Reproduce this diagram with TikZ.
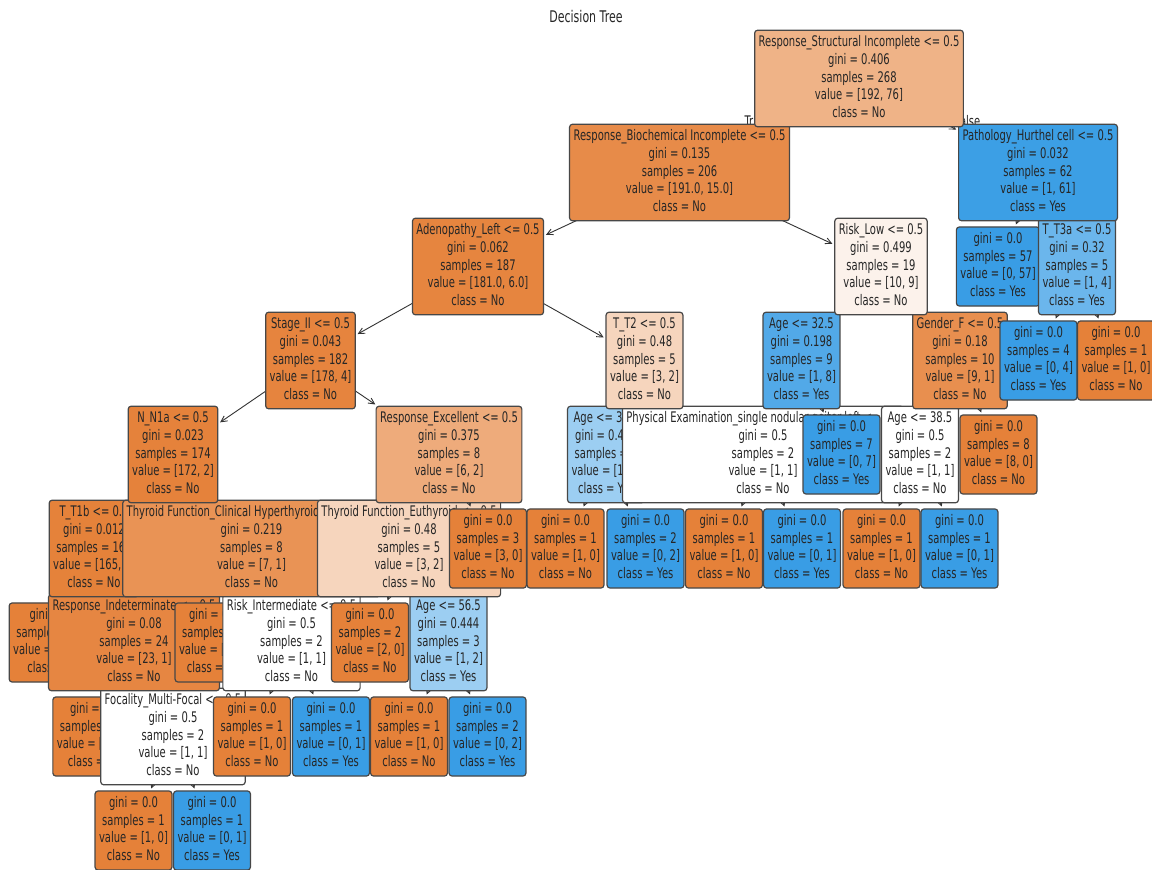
\documentclass[tikz,border=0pt]{standalone}
\usepackage{fontspec}
\setmainfont{DejaVu Sans}
\usepackage{graphicx}
\usetikzlibrary{arrows.meta}

% one layer per depth, deeper nodes lie below shallower ones
\pgfdeclarelayer{bg}
\pgfdeclarelayer{d0}
\pgfdeclarelayer{d1}
\pgfdeclarelayer{d2}
\pgfdeclarelayer{d3}
\pgfdeclarelayer{d4}
\pgfdeclarelayer{d5}
\pgfdeclarelayer{d6}
\pgfdeclarelayer{d7}
\pgfdeclarelayer{d8}
\pgfsetlayers{bg,d8,d7,d6,d5,d4,d3,d2,d1,d0,main}

\begin{document}
\begin{tikzpicture}[x=1pt, y=-1pt,
    tnode/.style={draw=black!72, line width=1.2pt, rounded corners=3pt,
        inner xsep=4pt, inner ysep=4.5pt, text=black!85,
        font=\fontsize{10}{12}\selectfont},
    tedge/.style={-{Straight Barb[length=6pt,width=6pt]}, line width=0.9pt,
        draw=black!80, shorten >=2pt},
    tlabel/.style={inner sep=0pt, text=black!85, font=\fontsize{10}{12}\selectfont}]
    % Class colours (No = orange, Yes = blue) blended with white by purity
    \definecolor{leafno}{RGB}{229,129,57}
    \definecolor{leafyes}{RGB}{57,157,229}
    \definecolor{croot}{RGB}{239,179,135}
    \definecolor{cbio}{RGB}{231,139,73}
    \definecolor{cpatho}{RGB}{60,159,229}
    \definecolor{cadeno}{RGB}{230,133,63}
    \definecolor{crisklow}{RGB}{252,242,235}
    \definecolor{ctthreea}{RGB}{107,182,236}
    \definecolor{cstage}{RGB}{230,132,62}
    \definecolor{cmixed}{RGB}{246,213,189}
    \definecolor{cagelow}{RGB}{82,169,232}
    \definecolor{cgender}{RGB}{232,143,79}
    \definecolor{cnone}{RGB}{229,130,59}
    \definecolor{cexcel}{RGB}{238,171,123}
    \definecolor{chalfblue}{RGB}{156,206,242}
    \definecolor{ctone}{RGB}{229,130,58}
    \definecolor{cclin}{RGB}{233,147,85}
    \definecolor{cindet}{RGB}{230,134,66}

    % Text block, stretched upwards like the plotted figure
    \newcommand{\stretchtext}[1]{\scalebox{1}[1.46]{\begin{tabular}{@{}c@{}}#1\end{tabular}}}
    % Tree node: depth, name, x, y, colour, text
    \newcommand{\treenode}[6]{
        \begin{pgfonlayer}{d#1}
            \node[tnode, fill=#5] (#2) at (#3,#4) {\stretchtext{#6}};
        \end{pgfonlayer}
    }
    % Arrow from parent to child, on the layer of the child
    \newcommand{\treeedge}[3]{
        \begin{pgfonlayer}{d#1}
            \draw[tedge] (#2.center) -- (#3);
        \end{pgfonlayer}
    }

    % Page and background
    \useasboundingbox (0,0) rectangle (1152,870);
    \begin{pgfonlayer}{bg}
        \fill[white] (0,0) rectangle (1152,870);
        \node[tlabel, anchor=east] (truelbl) at (766,121) {\scalebox{1}[1.46]{True}};
        \node[tlabel, anchor=west] (falselbl) at (955,121) {\scalebox{1}[1.46]{False}};
    \end{pgfonlayer}

    % Title
    \node[tlabel, font=\fontsize{11}{13}\selectfont] (title) at (586,17) {\scalebox{1}[1.46]{Decision Tree}};

    % Root
    \treenode{0}{root}{859}{78.5}{croot}{Response\_Structural Incomplete <= 0.5\\gini = 0.406\\samples = 268\\value = [192, 76]\\class = No}

    % Left branch
    \treenode{1}{bio}{679.5}{172.5}{cbio}{Response\_Biochemical Incomplete <= 0.5\\gini = 0.135\\samples = 206\\value = [191.0, 15.0]\\class = No}
    \treeedge{1}{root}{bio}
    \treenode{2}{adeno}{478}{266.5}{cadeno}{Adenopathy\_Left <= 0.5\\gini = 0.062\\samples = 187\\value = [181.0, 6.0]\\class = No}
    \treeedge{2}{bio}{adeno}
    \treenode{3}{stage}{310.5}{360.5}{cstage}{Stage\_II <= 0.5\\gini = 0.043\\samples = 182\\value = [178, 4]\\class = No}
    \treeedge{3}{adeno}{stage}
    \treenode{4}{none}{173}{454.5}{cnone}{N\_N1a <= 0.5\\gini = 0.023\\samples = 174\\value = [172, 2]\\class = No}
    \treeedge{4}{stage}{none}
    \treenode{5}{tone}{94}{548.5}{ctone}{T\_T1b <= 0.5\\gini = 0.012\\samples = 166\\value = [165, 1]\\class = No}
    \treeedge{5}{none}{tone}
    \treenode{6}{leafa}{54}{642.5}{leafno}{gini = 0.0\\samples = 142\\value = [142, 0]\\class = No}
    \treeedge{6}{tone}{leafa}
    \treenode{6}{indet}{134}{642.5}{cindet}{Response\_Indeterminate <= 0.5\\gini = 0.08\\samples = 24\\value = [23, 1]\\class = No}
    \treeedge{6}{tone}{indet}
    \treenode{7}{leafb}{94.5}{736.5}{leafno}{gini = 0.0\\samples = 22\\value = [22, 0]\\class = No}
    \treeedge{7}{indet}{leafb}
    \treenode{7}{focal}{173}{736.5}{white}{Focality\_Multi-Focal <= 0.5\\gini = 0.5\\samples = 2\\value = [1, 1]\\class = No}
    \treeedge{7}{indet}{focal}
    \treenode{8}{leafc}{133.5}{830.5}{leafno}{gini = 0.0\\samples = 1\\value = [1, 0]\\class = No}
    \treeedge{8}{focal}{leafc}
    \treenode{8}{leafd}{212}{830.5}{leafyes}{gini = 0.0\\samples = 1\\value = [0, 1]\\class = Yes}
    \treeedge{8}{focal}{leafd}
    \treenode{5}{clin}{251.5}{548.5}{cclin}{Thyroid Function\_Clinical Hyperthyroidism <= 0.5\\gini = 0.219\\samples = 8\\value = [7, 1]\\class = No}
    \treeedge{5}{none}{clin}
    \treenode{6}{leafe}{213.5}{642.5}{leafno}{gini = 0.0\\samples = 6\\value = [6, 0]\\class = No}
    \treeedge{6}{clin}{leafe}
    \treenode{6}{riskint}{291.5}{642.5}{white}{Risk\_Intermediate <= 0.5\\gini = 0.5\\samples = 2\\value = [1, 1]\\class = No}
    \treeedge{6}{clin}{riskint}
    \treenode{7}{leaff}{252}{736.5}{leafno}{gini = 0.0\\samples = 1\\value = [1, 0]\\class = No}
    \treeedge{7}{riskint}{leaff}
    \treenode{7}{leafg}{331}{736.5}{leafyes}{gini = 0.0\\samples = 1\\value = [0, 1]\\class = Yes}
    \treeedge{7}{riskint}{leafg}
    \treenode{4}{excel}{449}{454.5}{cexcel}{Response\_Excellent <= 0.5\\gini = 0.375\\samples = 8\\value = [6, 2]\\class = No}
    \treeedge{4}{stage}{excel}
    \treenode{5}{euthy}{409}{548.5}{cmixed}{Thyroid Function\_Euthyroid <= 0.5\\gini = 0.48\\samples = 5\\value = [3, 2]\\class = No}
    \treeedge{5}{excel}{euthy}
    \treenode{6}{leafh}{370}{642.5}{leafno}{gini = 0.0\\samples = 2\\value = [2, 0]\\class = No}
    \treeedge{6}{euthy}{leafh}
    \treenode{6}{agehigh}{448.5}{642.5}{chalfblue}{Age <= 56.5\\gini = 0.444\\samples = 3\\value = [1, 2]\\class = Yes}
    \treeedge{6}{euthy}{agehigh}
    \treenode{7}{leafi}{409}{736.5}{leafno}{gini = 0.0\\samples = 1\\value = [1, 0]\\class = No}
    \treeedge{7}{agehigh}{leafi}
    \treenode{7}{leafj}{487.5}{736.5}{leafyes}{gini = 0.0\\samples = 2\\value = [0, 2]\\class = Yes}
    \treeedge{7}{agehigh}{leafj}
    \treenode{5}{leafk}{488}{548.5}{leafno}{gini = 0.0\\samples = 3\\value = [3, 0]\\class = No}
    \treeedge{5}{excel}{leafk}
    \treenode{3}{ttwo}{644.5}{360.5}{cmixed}{T\_T2 <= 0.5\\gini = 0.48\\samples = 5\\value = [3, 2]\\class = No}
    \treeedge{3}{adeno}{ttwo}
    \treenode{4}{agemid}{606}{454.5}{chalfblue}{Age <= 35.5\\gini = 0.444\\samples = 3\\value = [1, 2]\\class = Yes}
    \treeedge{4}{ttwo}{agemid}
    \treenode{5}{leafl}{565.5}{548.5}{leafno}{gini = 0.0\\samples = 1\\value = [1, 0]\\class = No}
    \treeedge{5}{agemid}{leafl}
    \treenode{5}{leafm}{645.5}{548.5}{leafyes}{gini = 0.0\\samples = 2\\value = [0, 2]\\class = Yes}
    \treeedge{5}{agemid}{leafm}
    \treenode{2}{risklow}{881}{266.5}{crisklow}{Risk\_Low <= 0.5\\gini = 0.499\\samples = 19\\value = [10, 9]\\class = No}
    \treeedge{2}{bio}{risklow}
    \treenode{3}{agelow}{801.5}{360.5}{cagelow}{Age <= 32.5\\gini = 0.198\\samples = 9\\value = [1, 8]\\class = Yes}
    \treeedge{3}{risklow}{agelow}
    \treenode{4}{physex}{763}{454.5}{white}{Physical Examination\_single nodular goiter-left <= 0.5\\gini = 0.5\\samples = 2\\value = [1, 1]\\class = No}
    \treeedge{4}{agelow}{physex}
    \treenode{5}{leafn}{724}{548.5}{leafno}{gini = 0.0\\samples = 1\\value = [1, 0]\\class = No}
    \treeedge{5}{physex}{leafn}
    \treenode{5}{leafo}{802}{548.5}{leafyes}{gini = 0.0\\samples = 1\\value = [0, 1]\\class = Yes}
    \treeedge{5}{physex}{leafo}
    \treenode{4}{leafp}{841.5}{454.5}{leafyes}{gini = 0.0\\samples = 7\\value = [0, 7]\\class = Yes}
    \treeedge{4}{agelow}{leafp}
    \treenode{3}{gender}{960}{360.5}{cgender}{Gender\_F <= 0.5\\gini = 0.18\\samples = 10\\value = [9, 1]\\class = No}
    \treeedge{3}{risklow}{gender}
    \treenode{4}{ageold}{920}{454.5}{white}{Age <= 38.5\\gini = 0.5\\samples = 2\\value = [1, 1]\\class = No}
    \treeedge{4}{gender}{ageold}
    \treenode{5}{leafq}{881.5}{548.5}{leafno}{gini = 0.0\\samples = 1\\value = [1, 0]\\class = No}
    \treeedge{5}{ageold}{leafq}
    \treenode{5}{leafr}{959.5}{548.5}{leafyes}{gini = 0.0\\samples = 1\\value = [0, 1]\\class = Yes}
    \treeedge{5}{ageold}{leafr}
    \treenode{4}{leafs}{998.5}{454.5}{leafno}{gini = 0.0\\samples = 8\\value = [8, 0]\\class = No}
    \treeedge{4}{gender}{leafs}

    % Right branch
    \treenode{1}{patho}{1038}{172.5}{cpatho}{Pathology\_Hurthel cell <= 0.5\\gini = 0.032\\samples = 62\\value = [1, 61]\\class = Yes}
    \treeedge{1}{root}{patho}
    \treenode{2}{leaft}{998}{266.5}{leafyes}{gini = 0.0\\samples = 57\\value = [0, 57]\\class = Yes}
    \treeedge{2}{patho}{leaft}
    \treenode{2}{tthreea}{1077}{266.5}{ctthreea}{T\_T3a <= 0.5\\gini = 0.32\\samples = 5\\value = [1, 4]\\class = Yes}
    \treeedge{2}{patho}{tthreea}
    \treenode{3}{leafu}{1038.5}{360.5}{leafyes}{gini = 0.0\\samples = 4\\value = [0, 4]\\class = Yes}
    \treeedge{3}{tthreea}{leafu}
    \treenode{3}{leafv}{1116}{360.5}{leafno}{gini = 0.0\\samples = 1\\value = [1, 0]\\class = No}
    \treeedge{3}{tthreea}{leafv}
\end{tikzpicture}
\end{document}
